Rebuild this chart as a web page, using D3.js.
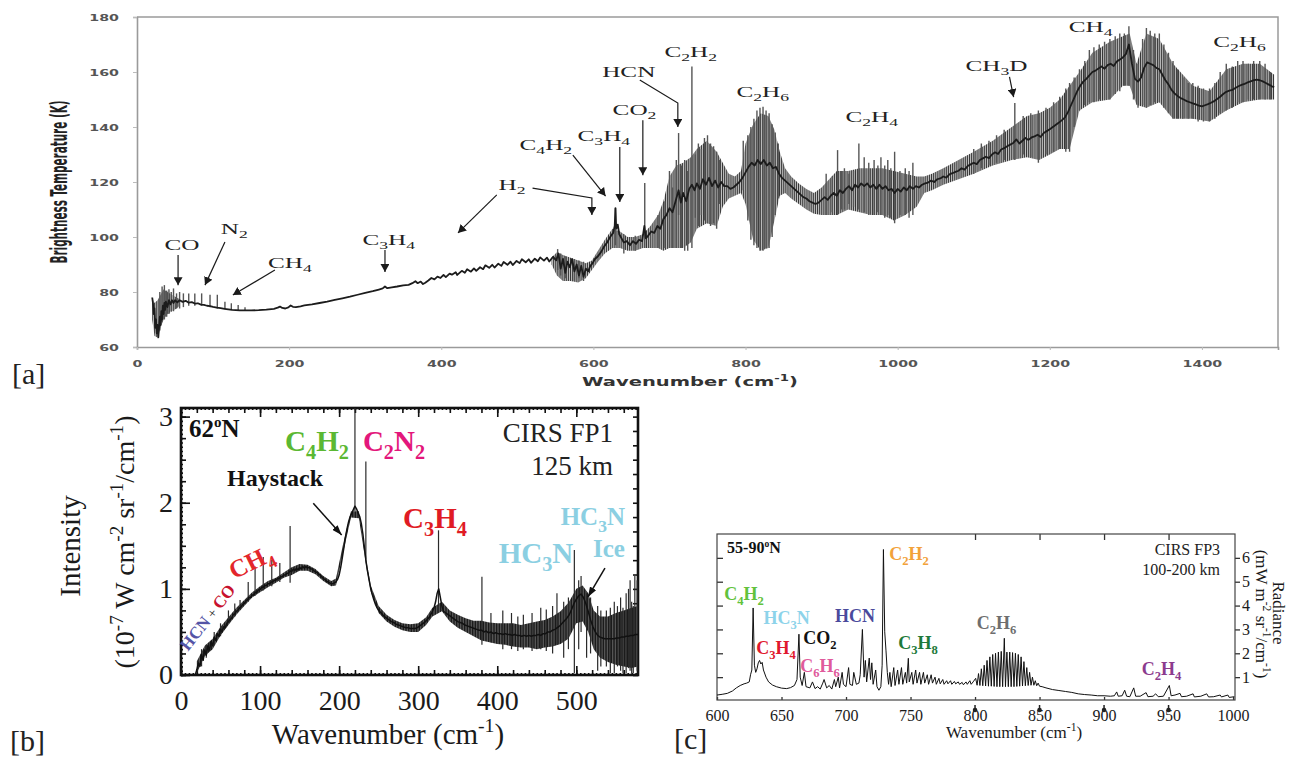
<!DOCTYPE html>
<html>
<head>
<meta charset="utf-8">
<script src="https://cdn.jsdelivr.net/npm/d3@7"></script>
<style>
  html, body { margin: 0; padding: 0; background: #fff; }
  svg { display: block; }
  text { white-space: pre; }
</style>
</head>
<body>
<script>
// ---------------- Panel [a]: brightness temperature spectrum ----------------
const aXTicks = [0, 200, 400, 600, 800, 1000, 1200, 1400];
const aYTicks = [60, 80, 100, 120, 140, 160, 180];

// central trace [wavenumber cm-1, brightness temperature K]
const aTrace = [
  [20,78],[21,76],[22,72],[23,74],[24,67],[25,70],[26,65],[27,68],[28,63.5],[29,67],[30,71],[31,68],[32,73],[33,70],[34,75],[35,72],[36,76],[37,73.5],[38,76.5],[40,74.5],[42,77],[44,75.5],[46,77],[48,76],[50,77],[53,76.2],[56,77],[60,76.4],[64,76.8],[68,76.1],[72,76.3],[76,75.8],[80,75.9],[84,75.4],[88,75.3],[92,75],[96,74.9],[100,74.6],[105,74.3],[110,74.1],[115,73.9],[120,73.7],[125,73.5],[130,73.4],[135,73.3],[140,73.3],[150,73.3],[160,73.4],[170,73.6],[180,73.9],[185,74.3],[188,74.7],[191,74.2],[195,74],[199,74.4],[202,75.1],[205,74.6],[209,74.5],[215,74.8],[220,75.1],[230,75.5],[240,76],[250,76.5],[260,77.1],[270,77.7],[280,78.3],[290,79],[300,79.7],[310,80.3],[318,80.9],[323,81.3],[326,82],[329,81.4],[335,81.7],[342,82],[350,82.4],[357,82.6],[362,83.2],[366,83.9],[369,83.2],[373,83.8],[376,82.9],[379,83.4],[383,84.2],[387,85.1],[391,84.6],[395,85.6],[399,85.1],[403,86.2],[406,85.4],[411,86.7],[414,86.3],[419,87.2],[421,86.2],[427,87.7],[431,87],[434,88.3],[439,87.4],[443,88.6],[446,87.7],[451,89],[455,88.3],[458,89.7],[463,88.8],[467,89.9],[470,88.9],[475,90.3],[479,89.5],[482,90.9],[487,89.9],[491,91],[494,89.8],[499,91.3],[503,90.5],[506,91.9],[511,90.8],[515,91.9],[518,90.6],[523,92.1],[527,91.2],[530,92.6],[535,91.4],[539,92.5],[542,91.1],[547,92.8],[551,91.5],[554,94],[557,88.5],[560,92],[563,87],[566,91],[569,89],[572,92],[575,87.5],[578,90],[581,86],[584,89.5],[587,85.5],[590,88.5],[593,87.5],[596,89.5],[599,90.5],[602,92],[606,93],[610,94.5],[614,96.5],[618,98],[622,100],[626,101.5],[628,104],[629,110.5],[630,103],[632,104.5],[634,101],[637,99.5],[640,98],[644,98.5],[648,97],[652,98.5],[656,97.5],[660,99],[664,98.5],[667,104],[669,99.5],[672,100.5],[676,102],[680,101.5],[684,104],[688,103],[692,106.5],[696,108],[700,110.5],[704,109],[708,113],[712,117],[715,112.5],[718,116],[722,113],[726,117.5],[729.5,119],[733,117],[736,119.5],[740,117.5],[744,121],[748,119],[752,121.5],[756,118.5],[760,120.5],[764,118],[768,120],[772,118.5],[776,118.5],[780,117.5],[784,118],[788,119],[792,120],[796,121.5],[800,123.5],[804,125.5],[808,127],[812,126],[816,128],[820,126.5],[824,128],[828,126],[832,127],[836,125],[840,125.5],[844,123],[848,121.5],[852,120.5],[856,119.5],[860,118.5],[864,117.5],[868,116.5],[872,115.5],[876,114.5],[880,114],[884,113],[888,112.5],[892,112],[896,112.5],[900,113.5],[904,114.5],[908,113.5],[912,115],[916,116],[920,115],[924,117],[928,116],[932,117.5],[936,118.5],[940,117],[944,119],[948,118],[952,119.5],[956,118.5],[960,119.5],[964,118],[968,119],[972,117.5],[976,119],[980,117.5],[984,118.5],[988,117],[992,117.5],[996,116],[1000,117.5],[1004,116.5],[1008,118],[1012,117],[1016,118.5],[1020,117.5],[1024,118.5],[1028,118],[1032,119],[1036,119.5],[1040,119.8],[1044,120.5],[1048,120],[1052,121],[1056,121.3],[1060,122],[1064,121.6],[1068,122.8],[1072,123.2],[1076,123.7],[1080,124.1],[1084,125],[1088,124.5],[1092,125.8],[1096,126.4],[1100,127],[1104,126.5],[1108,128],[1112,128.6],[1116,129.2],[1120,128.7],[1124,130],[1128,130.8],[1132,130.2],[1136,131.8],[1140,132.3],[1144,133],[1148,133.6],[1152,134.2],[1156,135.5],[1160,134],[1164,135],[1168,136],[1172,135.3],[1176,136.2],[1180,136.6],[1184,137.2],[1188,136.4],[1192,137.8],[1196,138.5],[1200,139.2],[1204,140],[1208,140.8],[1212,141.6],[1216,142.5],[1220,143.5],[1224,145.5],[1228,148],[1232,150.5],[1236,153],[1240,155],[1244,156.5],[1248,157.5],[1252,158.8],[1256,160],[1260,160.5],[1264,161.3],[1268,162],[1272,161.2],[1276,162.5],[1280,163],[1284,162.2],[1288,163.8],[1292,164.5],[1296,165.3],[1300,166.5],[1304,170],[1308,163],[1312,157.5],[1316,156.5],[1320,158],[1324,161.5],[1328,163.5],[1332,163],[1336,162.5],[1340,161.5],[1344,161],[1348,159],[1352,157],[1356,155.5],[1360,153.5],[1364,152.2],[1368,151.3],[1372,150.5],[1376,150],[1380,149.4],[1384,149],[1388,148.6],[1392,148.2],[1396,147.8],[1400,147.5],[1404,147.9],[1408,148.3],[1412,148.8],[1416,149.4],[1420,150.2],[1424,151],[1428,152],[1432,152.8],[1436,153.2],[1440,153.5],[1444,154.2],[1448,154.8],[1452,155.3],[1456,155.7],[1460,156.2],[1464,156.6],[1468,157],[1472,157.2],[1476,157],[1480,156.6],[1484,156],[1488,155.4],[1492,154.8],[1495,154.5]
];

// spread of the unresolved rotational lines [wavenumber, low K, high K]
const aBandCO = [
  [20,70,78],[23,64,76],[27,63.5,77],[31,67,79],[35,70,81],[40,72,80],[46,73,79],[52,74,78],[56,75,77.5]
];
const aBandMain = [
  [545,90,92.5],[552,86,94.5],[560,84,93.5],[570,84,92.5],[580,83.5,91.5],[590,85,90.5],[598,88,91.5],[606,91,95],[615,94,99],[625,96,103],[635,96,102],[645,95,100],[655,95,100],[665,96,101],[675,96,104],[685,96,108],[692,95,113],[700,96,122],[709,96,126],[718,96,127],[728,98,129],[736,103,132],[749,105,135],[762,104,131],[770,111,127],[778,114,123],[786,115,122],[794,116,124],[800,112,134],[810,99,141],[820,95,145],[830,96,144],[838,106,139],[845,115,131],[852,116,125],[860,114,122],[870,112,119.5],[880,110,117.5],[890,108.5,116],[900,108,118],[910,108,121],[920,108,124],[935,110,124],[950,109,125],[965,108,125],[980,108,125],[995,106,124],[1010,108,123],[1025,111,122],[1035,116,122],[1045,117,123],[1060,119,125],[1080,121,128],[1100,123,131],[1125,126,135],[1150,128,140],[1170,129,144],[1186,128,145],[1200,130,147],[1213,132,150],[1226,132,155],[1239,146,160],[1256,149,167],[1279,150,171],[1296,155,173],[1305,155,174],[1314,148,163],[1327,147,174],[1344,149,172],[1362,143,163],[1388,143,155],[1410,142,153],[1432,146,161],[1454,149,163],[1476,150,163],[1495,150,159]
];

// individual emission / absorption lines [wavenumber, low K, high K]
const aSpikes = [
  [30,66,80],[33,69,82],[36,70,82.5],[39,71,80.5],[42,72,81],[45,73,80],[48,73,81.3],[52,74,79.5],[56,74,80],[61,74.5,79.5],[68,75,79.5],[76,75,79.5],[85,75,79.5],[96,74.5,79],[105.6,74,79],[115.6,73.8,76.5],[124,73.5,75.9],[133,73.3,75.3],[142,73.3,74.5],
  [553,88,95.6],[557,86,94],[563,85,93],[575,84,92],[581,85,91.5],[587,84,91],[629,97,110.5],[640,94,101],[655,95,100.5],[667.5,96,119.6],[685,96,108],[694,96,113],[700,96,124],[704,96,118],[709,96,128],[712,108,137.8],[716,96,126],[720,95,128],[724,95,124],[729.5,96,162],[734,107,130],[738,104,134],[742,108,132],[746,106,136],[750,105,137],[754,104,134],[758,105,133],[762,103,131],[766,112,128],[797,117,135],[803,106,137],[807,99,140],[811,97,143],[815,96,146],[819,95,147],[823,95,147.4],[827,96,146],[831,96,145],[835,100,141],[839,108,138],[843,114,134],
  [906,108,123],[914,109,122],[921,108,131.6],[926,110,124],[930,110,125],[936,112,123],[942,111,124],[949,110,134],[956,109,129],[962,108,127],[969,108,128],[974,109,126],[978,108,129],[983,107,126],[987,108,128],[991,107,125],[996,105,131],[1003,108,124],[1010,108,125],[1015,107,124],[1020,108,127],
  [1100,123,132],[1110,125,134],[1120,126,135],[1130,127,137],[1140,128,139],[1154,128,148.7],[1165,130,144],[1175,129,145],[1185,127,146],[1195,130,147],[1205,131,149],[1213,132,151],[1221,131,154],[1226,131,156],[1232,140,158],[1239,146,161],[1246,148,164],[1252,149,168],[1258,149,169],[1265,150,170],[1272,150,171],[1279,150,172],[1286,152,173],[1292,153,174],[1298,155,174],[1304,155,176.6],[1310,150,168],[1316,147,163],[1322,148,172],[1327,147,176],[1332,148,175],[1338,149,174],[1344,149,174],[1350,147,170],[1356,145,167],[1362,143,164],[1368,143,161],[1375,143,158],[1382,143,156],[1388,143,156],[1395,142,155],[1402,142,154],[1410,142,154],[1417,143,156],[1424,145,160],[1432,146,163],[1440,147,162],[1447,149,164],[1454,149,164],[1461,150,163],[1468,150,164],[1476,150,164],[1483,150,163],[1490,150,160]
];

const aNotes = [
  {t: "CO", x: 59, y: 95.3}, {t: "N_2", x: 128, y: 101}, {t: "CH_4", x: 201, y: 88.7},
  {t: "C_3H_4", x: 331, y: 97}, {t: "H_2", x: 493, y: 117}, {t: "C_4H_2", x: 537.5, y: 131.6},
  {t: "C_3H_4", x: 613.7, y: 134.9}, {t: "CO_2", x: 654, y: 144.4}, {t: "HCN", x: 646.5, y: 158.2},
  {t: "C_2H_2", x: 728, y: 165.5}, {t: "C_2H_6", x: 822.6, y: 151}, {t: "C_2H_4", x: 966, y: 141.8},
  {t: "CH_3D", x: 1130, y: 160.4}, {t: "CH_4", x: 1253.6, y: 174.5}, {t: "C_2H_6", x: 1449.4, y: 169.1}
];
const aArrows = [
  [[54,93.5],[54,82.5]], [[115.6,98.2],[89.4,82.5]], [[181.3,88],[126,78.9]],
  [[326,95.3],[326,87.3]], [[473,115.3],[422,101.5]], [[520,117.8],[598,114.2],[598,108]],
  [[573,129.8],[616,114.9]], [[634.7,132.7],[634.7,112.7]], [[665,142.5],[665,122.5]],
  [[661,157.1],[711,148.7],[711,140]], [[1147,158.2],[1152.4,150.9]]
];

// ---------------- Panel [b]: CIRS FP1 far-infrared intensity ----------------
const bXTicks = [0, 100, 200, 300, 400, 500];
const bYTicks = [0, 1, 2, 3];
const bTrace = [
  [18,0],[20,0.06],[22,0.14],[24,0.1],[26,0.24],[28,0.17],[30,0.29],[32,0.23],[34,0.34],[36,0.29],[38,0.39],[40,0.34],[42,0.44],[44,0.4],[46,0.48],[48,0.45],[50,0.53],[52,0.5],[54,0.56],[56,0.55],[58,0.6],[60,0.62],[62,0.64],[64,0.66],[66,0.7],[68,0.71],[70,0.74],[72,0.75],[74,0.78],[76,0.79],[78,0.82],[80,0.83],[82,0.86],[84,0.87],[86,0.9],[88,0.9],[90,0.93],[92,0.93],[94,0.96],[96,0.96],[98,0.99],[100,0.99],[102,1.02],[104,1.02],[106,1.04],[108,1.04],[110,1.06],[112,1.06],[114,1.08],[116,1.08],[118,1.1],[120,1.1],[122,1.12],[124,1.12],[126,1.14],[128,1.14],[130,1.16],[132,1.16],[134,1.18],[136,1.18],[138,1.21],[140,1.2],[142,1.23],[144,1.21],[146,1.24],[148,1.22],[150,1.25],[152,1.23],[154,1.26],[156,1.24],[158,1.26],[160,1.24],[162,1.25],[164,1.23],[166,1.23],[168,1.21],[170,1.2],[172,1.19],[174,1.17],[176,1.16],[178,1.14],[180,1.12],[182,1.11],[184,1.09],[186,1.08],[188,1.07],[190,1.06],[192,1.06],[194,1.07],[196,1.08],[198,1.11],[200,1.16],[202,1.25],[204,1.36],[206,1.48],[208,1.6],[210,1.7],[212,1.78],[214,1.84],[216,1.88],[218,1.92],[220,1.96],[222,1.93],[224,1.88],[226,1.84],[228,1.76],[230,1.64],[232,1.48],[234,1.32],[236,1.2],[238,1.1],[240,1.0],[242,0.93],[244,0.87],[246,0.82],[248,0.78],[251,0.74],[254,0.71],[257,0.68],[260,0.66],[263,0.64],[266,0.62],[269,0.61],[272,0.59],[275,0.58],[278,0.57],[281,0.56],[284,0.55],[287,0.55],[290,0.54],[293,0.54],[296,0.54],[299,0.55],[302,0.57],[305,0.59],[308,0.61],[311,0.64],[314,0.67],[317,0.72],[320,0.78],[322,0.85],[324,0.95],[326,1.0],[328,0.9],[330,0.8],[332,0.74],[335,0.72],[338,0.7],[341,0.68],[344,0.66],[347,0.64],[350,0.62],[353,0.61],[356,0.6],[359,0.58],[362,0.57],[365,0.56],[368,0.55],[371,0.54],[374,0.53],[377,0.52],[380,0.52],[383,0.5],[386,0.51],[389,0.49],[392,0.5],[395,0.48],[398,0.49],[401,0.48],[404,0.48],[407,0.47],[410,0.48],[413,0.47],[416,0.47],[419,0.46],[422,0.47],[425,0.46],[428,0.46],[431,0.45],[434,0.46],[437,0.45],[440,0.46],[443,0.45],[446,0.46],[449,0.46],[452,0.47],[455,0.46],[458,0.48],[461,0.48],[464,0.5],[467,0.5],[470,0.52],[473,0.53],[476,0.55],[479,0.57],[482,0.6],[485,0.63],[488,0.66],[491,0.7],[494,0.76],[497,0.83],[500,0.88],[503,0.92],[506,0.94],[509,0.9],[512,0.83],[515,0.74],[518,0.64],[521,0.56],[524,0.5],[527,0.46],[530,0.44],[533,0.43],[536,0.42],[539,0.42],[542,0.42],[545,0.42],[548,0.42],[551,0.43],[554,0.43],[557,0.44],[560,0.44],[563,0.45],[566,0.45],[569,0.46],[572,0.46],[575,0.47],[578,0.47]
];
const bBand = [
  [20,0.02,0.16],[30,0.22,0.34],[40,0.3,0.42],[50,0.46,0.56],[60,0.58,0.67],[70,0.7,0.78],[80,0.8,0.87],[90,0.9,0.96],[100,0.96,1.03],[110,1.02,1.09],[120,1.07,1.13],[130,1.13,1.19],[140,1.16,1.25],[150,1.21,1.29],[160,1.21,1.28],[170,1.17,1.23],[180,1.09,1.15],[190,1.03,1.09],[196,1.04,1.12],[205,1.42,1.52],[215,1.83,1.9],[225,1.82,1.9],[235,1.22,1.3],[240,0.97,1.04],[250,0.72,0.8],[260,0.62,0.7],[270,0.56,0.64],[280,0.52,0.6],[290,0.5,0.59],[300,0.5,0.6],[310,0.58,0.67],[318,0.68,0.78],[330,0.74,0.85],[340,0.62,0.75],[350,0.55,0.7],[360,0.5,0.66],[370,0.45,0.63],[380,0.4,0.63],[390,0.38,0.61],[400,0.36,0.6],[410,0.35,0.6],[420,0.33,0.6],[430,0.32,0.58],[440,0.32,0.6],[450,0.3,0.62],[460,0.32,0.64],[470,0.33,0.68],[480,0.36,0.74],[490,0.42,0.84],[500,0.6,1.0],[508,0.62,1.04],[515,0.5,0.95],[522,0.3,0.75],[530,0.2,0.68],[540,0.15,0.68],[550,0.12,0.72],[560,0.1,0.75],[570,0.08,0.78],[578,0.1,0.8]
];
const bSpikes = [
  [26,0.1,0.3],[32,0.2,0.35],[42,0.35,0.5],[50,0.45,0.6],[60,0.6,0.75],[68,0.68,0.83],[74.7,0.76,0.87],[85,0.85,1.08],[93.7,0.92,1.26],[104,0.98,1.37],[114.8,1.03,1.34],[125,1.08,1.3],[138,1.07,1.73],
  [220,1.9,3.2],[233.8,1.35,2.48],[325.7,0.8,1.68],[380.6,0.35,1.14],[392,0.38,0.72],[407,0.3,0.75],[418,0.3,0.72],[426,0.28,0.68],[433,0.3,0.7],[444,0.28,0.72],[455,0.3,0.78],[462,0.28,0.76],[470,0.25,0.8],[475.5,0.35,0.95],[484,0.2,0.85],[490,0.3,0.9],[497.5,0.02,1.45],[503,0.3,1.1],[506,0.5,1.15],[513,0.2,0.95],[518,0.25,0.9],[527,0.05,0.8],[531,0.1,0.75],[538,0.1,0.75],[543,0.02,0.78],[548,0.02,0.85],[552,0.1,0.8],[556,0.05,0.9],[559,0.02,0.78],[563,0.02,0.95],[566,0.08,1.0],[568,0.05,1.1],[570,0.02,0.85],[572,0.02,0.8],[574,0.1,1.15],[577,0.05,1.1]
];

// ---------------- Panel [c]: CIRS FP3 mid-infrared radiance ----------------
const cXTicks = [600, 650, 700, 750, 800, 850, 900, 950, 1000];
const cYTicks = [1, 2, 3, 4, 5, 6];
const cTopTicks = [800, 850, 900, 950];
const cTrace = [
  [600,0.25],[604,0.28],[608,0.32],[612,0.42],[615,0.55],[618,0.65],[621,0.72],[623,0.75],[625,0.8],[626,1.1],[627,1.3],[628,3.9],[629,1.5],[630,1.2],[631,1.35],[632,1.6],[633,1.7],[634,1.55],[635,1.62],[636,1.3],[638,1.0],[640,0.8],[643,0.67],[646,0.6],[650,0.54],[654,0.52],[657,0.56],[660,0.65],[662,0.9],[663.5,2.8],[664.5,1.0],[666,0.65],[667.7,1.2],[669,0.6],[672,0.55],[674,0.8],[676,0.52],[678,0.6],[680,0.5],[682,0.75],[683,0.9],[685,0.55],[687,0.65],[689,0.5],[691,0.9],[692,0.6],[694,1.0],[695,0.55],[697,1.2],[698,0.7],[700,0.6],[702,1.4],[703,0.7],[705,0.65],[706,1.2],[708,0.7],[710,0.75],[711,1.1],[712.7,3.0],[714,1.0],[715,1.7],[716,0.8],[718,1.8],[719,0.9],[720,1.6],[721,0.7],[723,1.3],[724,0.6],[725.5,0.45],[727,0.6],[728,1.5],[729,6.35],[730,2.9],[731,2.1],[732,1.2],[733,0.7],[734,1.2],[735,0.6],[737,1.4],[738,0.65],[740,1.3],[741,0.7],[743,1.4],[744,0.7],[746,1.2],[747,0.75],[748.3,1.79],[749,0.8],[751,1.2],[752,0.7],[754,1.3],[755,0.75],[757,1.2],[758,0.7],[760,1.2],[761,0.75],[763,1.1],[764,0.7],[766,1.1],[767,0.75],[769,1.0],[770,0.7],[772,0.95],[773,0.72],[775,0.9],[776,0.7],[778,0.85],[779,0.72],[781,0.85],[782,0.7],[784,0.82],[785,0.72],[787,0.8],[788,0.7],[790,0.78],[791,0.68],[793,0.8],[794,0.7],[796,0.85],[797,0.7],[798.5,0.8],[800.5,0.95],[801.6,0.66],[802.7,1.15],[803.8,0.65],[804.9,1.35],[806,0.64],[807.1,1.5],[808.2,0.63],[809.3,1.7],[810.4,0.62],[811.5,1.85],[812.6,0.62],[813.7,1.95],[814.8,0.61],[815.9,2.0],[817,0.6],[818.1,2.05],[819.2,0.6],[820.3,2.08],[821.4,0.6],[822.7,2.63],[823.6,0.6],[824.7,2.05],[825.8,0.6],[826.9,2.05],[828,0.6],[829.1,2.03],[830.2,0.6],[831.3,2.0],[832.4,0.61],[833.5,1.95],[834.6,0.62],[835.7,1.85],[836.8,0.63],[837.9,1.65],[839,0.64],[840.1,1.4],[841.2,0.65],[842.3,1.2],[843.4,0.66],[844.5,1.0],[845.6,0.66],[846.7,0.85],[847.8,0.64],[848.9,0.75],[850,0.62],[852,0.6],[855,0.55],[860,0.48],[865,0.44],[870,0.4],[875,0.36],[880,0.3],[885,0.27],[890,0.25],[895,0.22],[900,0.22],[905,0.2],[908,0.22],[909.8,0.38],[911,0.2],[914,0.22],[916,0.45],[917.5,0.2],[920,0.18],[923,0.55],[924.5,0.2],[928,0.2],[932.6,0.35],[934,0.18],[938,0.2],[940,0.3],[942,0.18],[946,0.2],[950.6,0.65],[952,0.22],[955,0.25],[958.9,0.32],[960,0.18],[964,0.2],[969,0.3],[970,0.17],[975,0.2],[979.6,0.3],[981,0.17],[985,0.18],[990,0.25],[991,0.17],[996,0.25],[997,0.15],[1001,0.18]
];

const bNotes = [
  {t: "C_4H_2", x: 172, y: 2.6, c: "#5bb833"},
  {t: "C_2N_2", x: 269.4, y: 2.6, c: "#e3177b"},
  {t: "C_3H_4", x: 321.2, y: 1.707, c: "#e01b24"},
  {t: "HC_3N", x: 449, y: 1.3, c: "#8bcfe2"}
];
const cNotes = [
  {t: "C_4H_2", x: 620.9, y: 4.23, c: "#62c23c"},
  {t: "HC_3N", x: 653.9, y: 3.23, c: "#8dd3ea"},
  {t: "C_3H_4", x: 645.7, y: 1.97, c: "#e0182d"},
  {t: "CO_2", x: 679.8, y: 2.39, c: "#111111"},
  {t: "C_6H_6", x: 679.8, y: 1.22, c: "#e05a9b"},
  {t: "HCN", x: 707, y: 3.31, c: "#4a4a9c"},
  {t: "C_2H_2", x: 748.8, y: 5.91, c: "#f2a23a"},
  {t: "C_3H_8", x: 755.8, y: 2.18, c: "#1e7a3a"},
  {t: "C_2H_6", x: 816.7, y: 3.02, c: "#6e6e6e"},
  {t: "C_2H_4", x: 944.6, y: 1.09, c: "#8c3b8e"}
];

// ---------------------------------------------------------------------------
const SERIF = "'Liberation Serif', 'Times New Roman', serif";
const SANS = "'DejaVu Sans', 'Liberation Sans', sans-serif";

const svg = d3.select("body").append("svg").attr("width", 1300).attr("height", 758);
const defs = svg.append("defs");

// text with _x / _{..} subscripts and ^x / ^{..} superscripts
function rich(sel, str, scale = 0.68) {
  const fs = parseFloat(sel.attr("font-size"));
  const re = /([_^])\{([^}]*)\}|([_^])(\S)|([^_^]+)/g;
  let m, cur = 0;
  while ((m = re.exec(str)) !== null) {
    if (m[5] !== undefined) {
      const t = sel.append("tspan").text(m[5]);
      if (cur !== 0) { t.attr("dy", -cur); cur = 0; }
    } else {
      const kind = m[1] || m[3];
      const txt = m[2] !== undefined ? m[2] : m[4];
      const off = kind === "_" ? fs * 0.28 : -fs * 0.4;
      sel.append("tspan").attr("font-size", fs * scale).attr("dy", off - cur).text(txt);
      cur = off;
    }
  }
  return sel;
}

function arrowMarker(id, len, wid, color) {
  defs.append("marker").attr("id", id)
    .attr("viewBox", `0 0 ${len} ${wid}`).attr("refX", len).attr("refY", wid / 2)
    .attr("markerWidth", len).attr("markerHeight", wid)
    .attr("markerUnits", "userSpaceOnUse").attr("orient", "auto")
    .append("path").attr("d", `M0,0L${len},${wid / 2}L0,${wid}Z`).attr("fill", color);
}
arrowMarker("headA", 8, 9, "#1a1a1a");
arrowMarker("headB", 10, 7, "#111");

function stripes(id, step, w, color, bg) {
  const p = defs.append("pattern").attr("id", id).attr("patternUnits", "userSpaceOnUse")
    .attr("width", step).attr("height", 20);
  if (bg) p.append("rect").attr("width", step).attr("height", 20).attr("fill", bg);
  p.append("rect").attr("width", w).attr("height", 20).attr("fill", color);
}
stripes("bandA", 1.9, 0.9, "#2b2b2b", "#c6c6c6");
stripes("bandB", 1.6, 0.9, "#111", "#6a6a6a");

function clip(id, x0, y0, x1, y1) {
  defs.append("clipPath").attr("id", id).append("rect")
    .attr("x", x0).attr("y", y0).attr("width", x1 - x0).attr("height", y1 - y0);
}

// ======================= Panel a =======================
const xa = d3.scaleLinear().domain([0, 1500]).range([137, 1278]);
const ya = d3.scaleLinear().domain([60, 180]).range([347, 17]);
clip("clipA", 137, 17, 1278, 347);

const gA = svg.append("g");
// frame
gA.append("path")
  .attr("d", `M${xa(0)},${ya(180)}H${xa(1500)}V${ya(60)}`)
  .attr("fill", "none").attr("stroke", "#9a9a9a").attr("stroke-width", 1.5);

const axA_y = gA.append("g").attr("transform", `translate(${xa(0)},0)`)
  .call(d3.axisLeft(ya).tickValues(aYTicks).tickSize(4).tickPadding(8).tickFormat(d3.format("d")));
const axA_x = gA.append("g").attr("transform", `translate(0,${ya(60)})`)
  .call(d3.axisBottom(xa).tickValues(aXTicks).tickSize(3).tickPadding(10).tickFormat(d3.format("d")));
[axA_y, axA_x].forEach(ax => {
  ax.select(".domain").attr("stroke", "#9a9a9a").attr("stroke-width", 1.6);
  ax.selectAll(".tick line").attr("stroke", "#bbb");
  ax.selectAll(".tick text").attr("font-family", SANS).attr("font-weight", "bold")
    .attr("font-size", 9.5).attr("fill", "#555").attr("transform", "scale(1.5,1)");
});

// vertical title: narrow glyphs stretched across the axis direction
gA.append("text")
  .attr("transform", `translate(67,${ya(120)}) rotate(-90) scale(1,2.1)`)
  .attr("text-anchor", "middle").attr("font-family", "'DejaVu Sans Condensed', 'Liberation Sans Narrow', sans-serif")
  .attr("font-weight", "bold").attr("font-size", 11).attr("fill", "#222")
  .attr("textLength", 163).attr("lengthAdjust", "spacingAndGlyphs")
  .text("Brightness Temperature (K)");

gA.append("text")
  .attr("x", xa(727)).attr("y", 386).attr("text-anchor", "middle")
  .attr("font-family", SANS).attr("font-weight", "bold").attr("font-size", 12.5).attr("fill", "#333")
  .attr("textLength", 216).attr("lengthAdjust", "spacingAndGlyphs")
  .call(s => rich(s, "Wavenumber (cm^{-1})"));

const plotA = gA.append("g").attr("clip-path", "url(#clipA)");
const bandArea = (xs, ys) => d3.area().x(d => xs(d[0])).y0(d => ys(d[1])).y1(d => ys(d[2]));
[aBandCO, aBandMain].forEach(b => {
  plotA.append("path").attr("d", bandArea(xa, ya)(b)).attr("fill", "url(#bandA)");
});
plotA.selectAll("line.spk").data(aSpikes).join("line").attr("class", "spk")
  .attr("x1", d => xa(d[0])).attr("x2", d => xa(d[0]))
  .attr("y1", d => ya(d[1])).attr("y2", d => ya(d[2]))
  .attr("stroke", "#555").attr("stroke-width", 1.4);
plotA.append("path")
  .attr("d", d3.line().x(d => xa(d[0])).y(d => ya(d[1]))(aTrace))
  .attr("fill", "none").attr("stroke", "#1c1c1c").attr("stroke-width", 1.8).attr("stroke-linejoin", "round");

// labels and pointers
aArrows.forEach(pts => {
  gA.append("path").attr("d", d3.line().x(d => xa(d[0])).y(d => ya(d[1]))(pts))
    .attr("fill", "none").attr("stroke", "#1a1a1a").attr("stroke-width", 1.2)
    .attr("marker-end", "url(#headA)");
});
aNotes.forEach(n => {
  const g = gA.append("g").attr("transform", `translate(${xa(n.x)},${ya(n.y)}) scale(1.68,1)`);
  rich(g.append("text").attr("text-anchor", "middle").attr("font-family", SERIF)
    .attr("font-size", 15).attr("fill", "#222"), n.t, 0.7);
});

// ======================= Panel b =======================
const xb = d3.scaleLinear().domain([0, 578]).range([181, 638]);
const yb = d3.scaleLinear().domain([0, 3.1]).range([675, 408]);
clip("clipB", 181, 408, 638, 675);
const gB = svg.append("g");

function ticksB(axisGen, vals, size, translate, labels) {
  const g = gB.append("g").attr("transform", translate)
    .call(axisGen.tickValues(vals).tickSize(size).tickPadding(labels ? labels : 0)
      .tickFormat(labels ? d3.format("d") : ""));
  g.select(".domain").remove();
  g.selectAll(".tick line").attr("stroke", "#111").attr("stroke-width", 1.6);
  g.selectAll(".tick text").attr("font-family", SERIF).attr("font-size", 28).attr("fill", "#1a1a1a");
  return g;
}
const bx100 = bXTicks, bx20 = d3.range(0, 578, 20), bx5 = d3.range(0, 578, 5);
const by1 = bYTicks, by025 = d3.range(0, 3.1, 0.25), by005 = d3.range(0, 3.1, 0.05), byR = d3.range(0, 3.1, 1 / 6);
ticksB(d3.axisBottom(xb), bx5, -2, `translate(0,675)`);
ticksB(d3.axisBottom(xb), bx20, -5, `translate(0,675)`);
ticksB(d3.axisBottom(xb), bx100, -9, `translate(0,675)`, 15);
ticksB(d3.axisTop(xb), bx5, -2, `translate(0,408)`);
ticksB(d3.axisTop(xb), bx20, -5, `translate(0,408)`);
ticksB(d3.axisTop(xb), bx100, -9, `translate(0,408)`);
ticksB(d3.axisLeft(yb), by005, -2, `translate(181,0)`);
ticksB(d3.axisLeft(yb), by025, -5, `translate(181,0)`);
ticksB(d3.axisLeft(yb), by1, -9, `translate(181,0)`, 8);
ticksB(d3.axisRight(yb), byR, -5, `translate(638,0)`);

gB.append("rect").attr("x", 181).attr("y", 408).attr("width", 457).attr("height", 267)
  .attr("fill", "none").attr("stroke", "#111").attr("stroke-width", 2.6);

const plotB = gB.append("g").attr("clip-path", "url(#clipB)");
plotB.append("path").attr("d", bandArea(xb, yb)(bBand)).attr("fill", "url(#bandB)");
plotB.selectAll("line.spk").data(bSpikes).join("line").attr("class", "spk")
  .attr("x1", d => xb(d[0])).attr("x2", d => xb(d[0]))
  .attr("y1", d => yb(d[1])).attr("y2", d => yb(d[2]))
  .attr("stroke", "#2a2a2a").attr("stroke-width", 1.2);
plotB.append("path")
  .attr("d", d3.line().x(d => xb(d[0])).y(d => yb(d[1]))(bTrace))
  .attr("fill", "none").attr("stroke", "#111").attr("stroke-width", 1.5).attr("stroke-linejoin", "round");

// axis titles
gB.append("text").attr("x", 388).attr("y", 744).attr("text-anchor", "middle")
  .attr("font-family", SERIF).attr("font-size", 29).attr("fill", "#1a1a1a")
  .call(s => rich(s, "Wavenumber (cm^{-1})"));
gB.append("text").attr("transform", `translate(80,546) rotate(-90)`).attr("text-anchor", "middle")
  .attr("font-family", SERIF).attr("font-size", 29).attr("fill", "#1a1a1a").text("Intensity");
gB.append("text").attr("transform", `translate(134,542) rotate(-90)`).attr("text-anchor", "middle")
  .attr("font-family", SERIF).attr("font-size", 28).attr("fill", "#1a1a1a")
  .call(s => rich(s, "(10^{-7} W cm^{-2} sr^{-1}/cm^{-1})"));

// annotations
rich(gB.append("text").attr("x", xb(10.1)).attr("y", yb(2.763)).attr("font-family", SERIF)
  .attr("font-weight", "bold").attr("font-size", 25).attr("fill", "#111"), "62^oN", 0.6);
rich(gB.append("text").attr("x", xb(546.4)).attr("y", yb(2.705)).attr("text-anchor", "end")
  .attr("font-family", SERIF).attr("font-size", 27).attr("fill", "#222"), "CIRS FP1");
rich(gB.append("text").attr("x", xb(546.4)).attr("y", yb(2.322)).attr("text-anchor", "end")
  .attr("font-family", SERIF).attr("font-size", 27).attr("fill", "#222"), "125 km");
gB.append("text").attr("x", xb(58.2)).attr("y", yb(2.194)).attr("font-family", SERIF)
  .attr("font-weight", "bold").attr("font-size", 24).attr("fill", "#111").text("Haystack");
bNotes.forEach(n => {
  rich(gB.append("text").attr("x", xb(n.x)).attr("y", yb(n.y)).attr("text-anchor", "middle")
    .attr("font-family", SERIF).attr("font-weight", "bold").attr("font-size", 29).attr("fill", n.c), n.t, 0.7);
});
rich(gB.append("text").attr("x", xb(561.5)).attr("y", yb(1.742)).attr("text-anchor", "end")
  .attr("font-family", SERIF).attr("font-weight", "bold").attr("font-size", 25).attr("fill", "#8bcfe2"), "HC_3N", 0.7);
gB.append("text").attr("x", xb(561.5)).attr("y", yb(1.37)).attr("text-anchor", "end")
  .attr("font-family", SERIF).attr("font-weight", "bold").attr("font-size", 25).attr("fill", "#8bcfe2").text("Ice");
// tilted labels along the rising continuum
rich(gB.append("text").attr("transform", `translate(${xb(67)},${yb(1.11)}) rotate(-26)`)
  .attr("font-family", SERIF).attr("font-weight", "bold").attr("font-size", 25).attr("fill", "#e3262b"), "CH_4", 0.7);
const hc = gB.append("text").attr("transform", `translate(${xb(9)},${yb(0.27)}) rotate(-52)`)
  .attr("font-family", SERIF).attr("font-weight", "bold").attr("font-size", 17);
hc.append("tspan").attr("fill", "#5454a6").text("HCN");
hc.append("tspan").attr("fill", "#222").attr("font-weight", "normal").attr("font-size", 14).text(" + ");
hc.append("tspan").attr("fill", "#c8122e").text("CO");

[[[167.3, 1.994], [203.2, 1.625]], [[536.2, 1.242], [514.7, 0.906]]].forEach(pts => {
  gB.append("path").attr("d", d3.line().x(d => xb(d[0])).y(d => yb(d[1]))(pts))
    .attr("fill", "none").attr("stroke", "#111").attr("stroke-width", 1.5).attr("marker-end", "url(#headB)");
});

// ======================= Panel c =======================
const xc = d3.scaleLinear().domain([600, 1001.5]).range([717, 1235]);
const yc = d3.scaleLinear().domain([0, 7]).range([701, 534]);
clip("clipC", 717, 534, 1235, 700);
const gC = svg.append("g");

function ticksC(axisGen, vals, size, translate, pad, fmt) {
  const g = gC.append("g").attr("transform", translate)
    .call(axisGen.tickValues(vals).tickSize(size).tickPadding(pad || 0).tickFormat(fmt ? d3.format("d") : ""));
  g.select(".domain").remove();
  g.selectAll(".tick line").attr("stroke", "#333").attr("stroke-width", 1.3);
  g.selectAll(".tick text").attr("font-family", SERIF).attr("font-size", 16).attr("fill", "#1a1a1a");
  return g;
}
ticksC(d3.axisBottom(xc), cXTicks, -3, `translate(0,700)`, 10, true);
ticksC(d3.axisTop(xc), cTopTicks, -6, `translate(0,534)`);
ticksC(d3.axisLeft(yc), cYTicks, -6, `translate(717,0)`);
ticksC(d3.axisRight(yc), cYTicks, 5, `translate(1235,0)`, 2, true);

// small markers under the upper wavenumber ticks
gC.selectAll("circle.mk").data(cTopTicks).join("circle").attr("class", "mk")
  .attr("cx", d => xc(d)).attr("cy", 710).attr("r", 2.3).attr("fill", "#222");
gC.selectAll("line.mk").data(cTopTicks).join("line").attr("class", "mk")
  .attr("x1", d => xc(d)).attr("x2", d => xc(d)).attr("y1", 705).attr("y2", 709)
  .attr("stroke", "#222").attr("stroke-width", 1.5);

gC.append("rect").attr("x", 717).attr("y", 534).attr("width", 518).attr("height", 166)
  .attr("fill", "none").attr("stroke", "#444").attr("stroke-width", 1.2);

gC.append("g").attr("clip-path", "url(#clipC)").append("path")
  .attr("d", d3.line().x(d => xc(d[0])).y(d => yc(d[1]))(cTrace))
  .attr("fill", "none").attr("stroke", "#111").attr("stroke-width", 1).attr("stroke-linejoin", "round");

gC.append("text").attr("x", 1014).attr("y", 738).attr("text-anchor", "middle")
  .attr("font-family", SERIF).attr("font-size", 17).attr("fill", "#1a1a1a")
  .call(s => rich(s, "Wavenumber (cm^{-1})"));
gC.append("text").attr("transform", `translate(1273,613) rotate(90)`).attr("text-anchor", "middle")
  .attr("font-family", SERIF).attr("font-size", 17).attr("fill", "#1a1a1a").text("Radiance");
gC.append("text").attr("transform", `translate(1256,614) rotate(90)`).attr("text-anchor", "middle")
  .attr("font-family", SERIF).attr("font-size", 17).attr("fill", "#1a1a1a")
  .call(s => rich(s, "(mW m^{-2} sr^{-1}/cm^{-1})"));

rich(gC.append("text").attr("x", xc(607.8)).attr("y", yc(6.2)).attr("font-family", SERIF)
  .attr("font-weight", "bold").attr("font-size", 16).attr("fill", "#111"), "55-90^oN", 0.6);
gC.append("text").attr("x", xc(989.9)).attr("y", yc(6.12)).attr("text-anchor", "end")
  .attr("font-family", SERIF).attr("font-size", 16).attr("fill", "#222").text("CIRS FP3");
gC.append("text").attr("x", xc(989.9)).attr("y", yc(5.28)).attr("text-anchor", "end")
  .attr("font-family", SERIF).attr("font-size", 16).attr("fill", "#222").text("100-200 km");
cNotes.forEach(n => {
  rich(gC.append("text").attr("x", xc(n.x)).attr("y", yc(n.y)).attr("text-anchor", "middle")
    .attr("font-family", SERIF).attr("font-weight", "bold").attr("font-size", 18).attr("fill", n.c), n.t, 0.7);
});

// ======================= panel tags =======================
[["[a]", 12, 384], ["[b]", 10, 751], ["[c]", 674, 749]].forEach(([t, x, y]) => {
  svg.append("text").attr("x", x).attr("y", y).attr("font-family", SERIF)
    .attr("font-size", 30).attr("fill", "#222").text(t);
});
</script>
</body>
</html>
